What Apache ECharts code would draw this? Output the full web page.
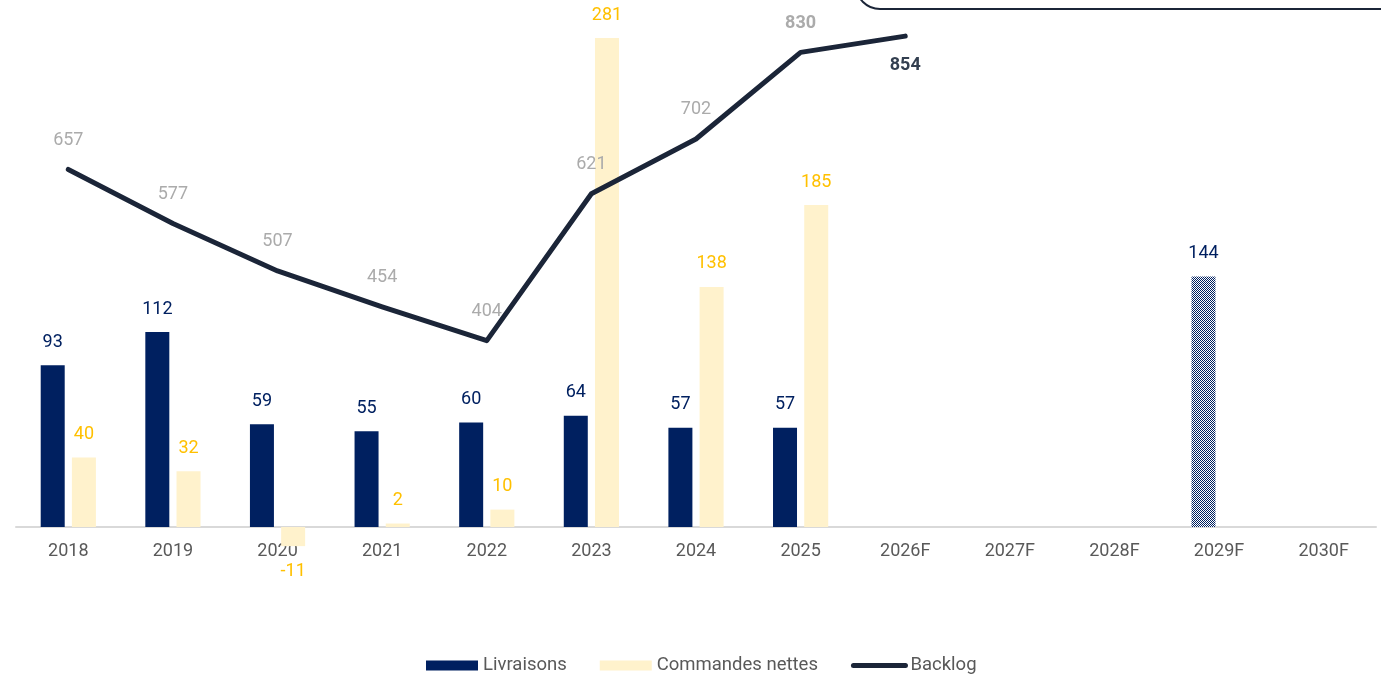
<!DOCTYPE html>
<html>
<head>
<meta charset="utf-8">
<script src="https://cdn.jsdelivr.net/npm/echarts@6/dist/echarts.min.js"></script>
<style>
  html, body { margin: 0; padding: 0; background: #fff; }
  #chart { width: 1381px; height: 674px; }
</style>
</head>
<body>
<div id="chart"></div>
<script>
var categories = ['2018', '2019', '2020', '2021', '2022', '2023', '2024', '2025', '2026F', '2027F', '2028F', '2029F', '2030F']
var livraisons = [93, 112, 59, 55, 60, 64, 57, 57, null, null, null, 144, null]
var commandes = [40, 32, -11, 2, 10, 281, 138, 185, null, null, null, null, null]
var backlog = [657, 577, 507, 454, 404, 621, 702, 830, 854, null, null, null, null]
var hatched = ['2029F']

var navy = '#002060'
var cream = '#FFF2CC'
var gold = '#FFC000'
var lineColor = '#1B2538'
var font = 'Roboto'

// motif damier pour les barres prévisionnelles
function checker () {
  var c = document.createElement('canvas')
  c.width = 2
  c.height = 2
  var ctx = c.getContext('2d')
  ctx.fillStyle = '#ffffff'
  ctx.fillRect(0, 0, 2, 2)
  ctx.fillStyle = navy
  ctx.fillRect(0, 0, 1, 1)
  ctx.fillRect(1, 1, 1, 1)
  return c
}
var pattern = { image: checker(), repeat: 'repeat' }

var livData = livraisons.map(function (v, i) {
  if (hatched.indexOf(categories[i]) >= 0) {
    return { value: v, itemStyle: { color: pattern } }
  }
  return v
})

var cmdData = commandes.map(function (v) {
  if (v !== null && v < 0) {
    return { value: v, label: { position: 'bottom', distance: 16 } }
  }
  return v
})

var backlogData = backlog.map(function (v, i) {
  if (i === 7) {
    return { value: v, label: { fontWeight: 'bold' } }
  }
  if (i === 8) {
    return { value: v, label: { position: 'bottom', fontWeight: 'bold', color: '#333F50' } }
  }
  return v
})

var myChart = echarts.init(document.getElementById('chart'))
myChart.setOption({
  animation: false,
  textStyle: { fontFamily: font },
  grid: { left: 16, right: 5, top: 5, bottom: 60 },
  legend: {
    top: 651,
    left: 421,
    itemWidth: 52,
    itemHeight: 10,
    itemGap: 33,
    textStyle: { fontSize: 18.5, color: '#595959', fontFamily: font },
    data: [
      { name: 'Livraisons', icon: 'rect' },
      { name: 'Commandes nettes', icon: 'rect' },
      { name: 'Backlog', itemStyle: { opacity: 0 }, lineStyle: { width: 5, cap: 'round' } }
    ]
  },
  xAxis: {
    type: 'category',
    data: categories,
    offset: -87,
    axisTick: { show: false },
    axisLine: { onZero: false, lineStyle: { color: '#D9D9D9', width: 2 } },
    axisLabel: { fontSize: 18, color: '#595959', margin: 15, fontFamily: font }
  },
  yAxis: [
    { type: 'value', min: -50, max: 300, show: false, splitLine: { show: false } },
    { type: 'value', min: 0, max: 900, show: false, splitLine: { show: false } }
  ],
  graphic: [
    {
      type: 'rect',
      shape: { x: 856, y: -70, width: 620, height: 79, r: 24 },
      style: { fill: '#fff', stroke: lineColor, lineWidth: 2 },
      z: 100
    }
  ],
  series: [
    {
      name: 'Livraisons',
      type: 'bar',
      data: livData,
      barWidth: 24,
      barGap: '30%',
      itemStyle: { color: navy },
      label: { show: true, position: 'top', distance: 14, fontSize: 18, color: navy, fontFamily: font }
    },
    {
      name: 'Commandes nettes',
      type: 'bar',
      data: cmdData,
      barWidth: 24,
      itemStyle: { color: cream },
      label: { show: true, position: 'top', distance: 14, fontSize: 18, color: gold, fontFamily: font }
    },
    {
      name: 'Backlog',
      type: 'line',
      yAxisIndex: 1,
      data: backlogData,
      showSymbol: true,
      symbol: 'circle',
      symbolSize: 0.1,
      z: 5,
      lineStyle: { color: lineColor, width: 5, cap: 'round', join: 'round' },
      itemStyle: { color: lineColor },
      label: { show: true, position: 'top', distance: 20, fontSize: 18, color: '#ABABAB', fontFamily: font }
    }
  ]
})
</script>
</body>
</html>
